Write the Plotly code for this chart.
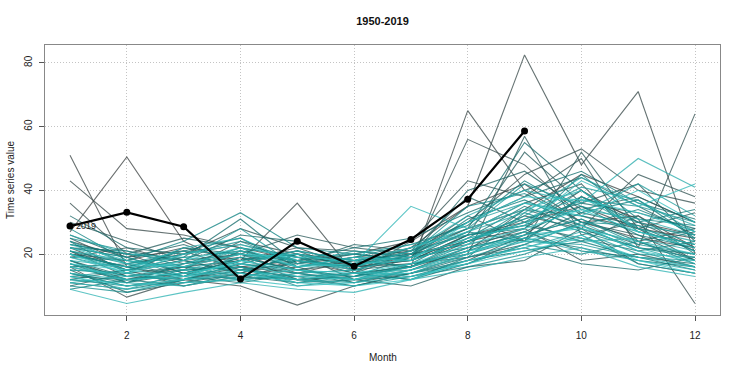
import plotly.graph_objects as go

months = list(range(1, 13))
years = list(range(1950, 2019))

values = [
    [22, 15, 18, 14, 20, 16, 18, 26, 30, 35, 28, 25],
    [18, 12, 16, 20, 14, 18, 22, 35, 42, 30, 32, 22],
    [27, 50.5, 24, 16, 18, 14, 20, 28, 34, 45, 38, 30],
    [51, 16, 12, 14, 18, 15, 20, 24, 28, 40, 30, 26],
    [20, 18, 22, 18, 36, 14, 16, 65, 40, 30, 25, 22],
    [43, 28, 26, 22, 18, 20, 24, 35, 82.5, 48, 71, 20],
    [16, 6.5, 12, 10, 4, 10, 14, 18, 26, 38, 31, 4.5],
    [36, 20, 14, 18, 22, 16, 18, 56, 48, 32, 28, 18],
    [24, 19, 21, 15, 17, 19, 21, 30, 45, 53, 40, 36],
    [19, 22, 17, 19, 12, 14, 24, 43, 38, 50, 22, 64],
    [21, 13, 15, 24, 20, 18, 16, 24, 32, 28, 45, 38],
    [14, 10, 12, 16, 14, 12, 15, 22, 28, 18, 20, 16],
    [25, 17, 20, 28, 22, 21, 19, 27, 36, 42, 24, 28],
    [12, 15, 10, 13, 16, 11, 14, 20, 57, 26, 30, 22],
    [30, 24, 18, 20, 26, 22, 20, 32, 24, 52, 28, 33],
    [17, 11, 14, 12, 18, 16, 17, 19, 23, 30, 26, 18],
    [23, 20, 25, 22, 15, 17, 18, 26, 52, 36, 42, 24],
    [10, 14, 16, 18, 20, 12, 10, 16, 18, 28, 17, 14],
    [20, 16, 13, 21, 17, 23, 21, 38, 30, 24, 32, 20],
    [15, 8, 11, 14, 12, 13, 16, 21, 34, 29, 23, 27],
    [26, 19, 23, 17, 21, 15, 19, 40, 46, 34, 38, 30],
    [13, 12, 14, 19, 15, 18, 20, 23, 27, 21, 19, 17],
    [22, 21, 18, 26, 24, 16, 22, 30, 38, 44, 35, 26],
    [18, 13, 16, 13, 11, 14, 12, 17, 25, 33, 29, 21],
    [32, 22, 20, 23, 19, 17, 21, 28, 55, 40, 27, 23],
    [11, 9, 12, 15, 13, 10, 14, 19, 22, 17, 15, 19],
    [21, 15, 19, 31, 17, 20, 18, 24, 31, 36, 33, 28],
    [16, 17, 13, 11, 14, 15, 17, 26, 29, 25, 21, 24],
    [24, 14, 22, 20, 18, 22, 25, 33, 40, 46, 36, 31],
    [19, 18, 15, 16, 12, 13, 19, 22, 26, 31, 24, 18],
    [14, 11, 17, 22, 19, 14, 16, 25, 35, 28, 22, 20],
    [22, 19, 14, 18, 21, 18, 20, 27, 24, 38, 30, 34],
    [9, 12, 10, 14, 11, 12, 13, 18, 21, 24, 19, 15],
    [20, 16, 21, 25, 16, 19, 23, 29, 43, 33, 37, 25],
    [17, 13, 12, 17, 14, 11, 15, 21, 27, 35, 26, 22],
    [23, 20, 18, 14, 20, 17, 19, 31, 37, 29, 34, 27],
    [12, 10, 13, 19, 15, 13, 17, 20, 25, 22, 18, 16],
    [28, 18, 24, 33, 22, 20, 18, 24, 30, 40, 28, 21],
    [15, 14, 11, 12, 13, 14, 12, 19, 33, 27, 22, 19],
    [21, 17, 19, 21, 18, 16, 21, 26, 28, 45, 31, 29],
    [18, 11, 15, 16, 10, 12, 14, 17, 23, 20, 24, 17],
    [13, 15, 17, 20, 16, 18, 16, 23, 34, 32, 27, 23],
    [25, 21, 16, 15, 19, 15, 20, 35, 39, 30, 29, 26],
    [10, 8, 12, 13, 12, 10, 13, 16, 20, 26, 17, 14],
    [20, 16, 20, 24, 17, 21, 19, 25, 29, 37, 35, 30],
    [16, 12, 14, 17, 15, 13, 16, 22, 26, 31, 23, 20],
    [22, 19, 13, 18, 20, 17, 22, 28, 42, 35, 30, 25],
    [14, 10, 11, 15, 13, 14, 15, 19, 24, 23, 19, 18],
    [19, 15, 18, 28, 16, 19, 18, 24, 32, 41, 37, 27],
    [11, 13, 15, 12, 14, 12, 17, 21, 25, 29, 21, 16],
    [24, 17, 21, 20, 18, 16, 20, 30, 36, 33, 42, 32],
    [17, 12, 13, 16, 11, 13, 14, 18, 22, 27, 20, 19],
    [21, 18, 16, 22, 19, 20, 23, 26, 31, 38, 28, 24],
    [13, 9, 14, 14, 12, 11, 15, 20, 27, 24, 25, 21],
    [26, 20, 19, 17, 21, 18, 19, 27, 33, 44, 36, 29],
    [15, 14, 12, 18, 14, 15, 13, 17, 23, 30, 22, 17],
    [20, 15, 22, 25, 17, 16, 21, 32, 40, 36, 50, 41],
    [12, 11, 10, 13, 15, 12, 16, 22, 25, 21, 18, 15],
    [18, 16, 17, 21, 16, 19, 18, 24, 30, 34, 31, 26],
    [9, 4.5, 8, 11, 9, 8, 12, 15, 19, 22, 16, 13],
    [23, 18, 15, 19, 20, 17, 35, 28, 34, 40, 27, 23],
    [14, 12, 13, 15, 12, 14, 14, 20, 26, 28, 24, 20],
    [19, 14, 20, 23, 18, 15, 19, 25, 29, 43, 35, 42],
    [11, 9, 11, 12, 10, 11, 13, 17, 21, 25, 19, 16],
    [22, 17, 16, 20, 19, 18, 22, 27, 36, 32, 40, 30],
    [16, 13, 14, 17, 13, 12, 15, 21, 24, 29, 21, 18],
    [20, 14, 18, 22, 16, 17, 18, 30, 38, 37, 33, 27],
    [13, 10, 12, 14, 11, 10, 12, 18, 22, 26, 18, 14],
    [17, 15, 13, 18, 15, 14, 17, 23, 28, 34, 27, 22],
]

months_2019 = list(range(1, 10))
values_2019 = [28.8, 33.1, 28.6, 12.2, 24.0, 16.2, 24.6, 37.2, 58.6]

x_ticks = [2, 4, 6, 8, 10, 12]
y_ticks = [20, 40, 60, 80]

color_stops = [(68, 68, 68), (10, 122, 122), (60, 200, 200)]


def ramp(t):
    if t <= 0.5:
        a, b, u = color_stops[0], color_stops[1], t / 0.5
    else:
        a, b, u = color_stops[1], color_stops[2], (t - 0.5) / 0.5
    return tuple(round(a[k] + (b[k] - a[k]) * u) for k in range(3))


fig = go.Figure()
n = len(years)
for i, (yr, vals) in enumerate(zip(years, values)):
    r, g, b = ramp(i / (n - 1))
    fig.add_trace(go.Scatter(
        x=months, y=vals, mode="lines", name=str(yr),
        line=dict(color=f"rgba({r},{g},{b},0.78)", width=1.1),
        hoverinfo="skip", showlegend=False,
    ))

fig.add_trace(go.Scatter(
    x=months_2019, y=values_2019, mode="lines+markers", name="2019",
    line=dict(color="black", width=2.2),
    marker=dict(color="black", size=7),
    showlegend=False,
))

FONT = "Liberation Sans, Arial, sans-serif"

fig.add_annotation(x=months_2019[0], y=values_2019[0], text="2019",
                   xanchor="left", yanchor="middle", xshift=4, showarrow=False,
                   font=dict(family=FONT, size=9, color="#222"))

fig.add_annotation(x=0.5, y=-0.159, xref="paper", yref="paper", text="Month",
                   showarrow=False, xanchor="center", yanchor="middle",
                   font=dict(family=FONT, size=10, color="#222"))
fig.add_annotation(x=-0.052, y=0.5, xref="paper", yref="paper", text="Time series value",
                   showarrow=False, textangle=-90, xanchor="center", yanchor="middle",
                   font=dict(family=FONT, size=10, color="#222"))

axis_common = dict(
    showgrid=True, gridcolor="#c4c4c4", griddash="1px,2px", gridwidth=1,
    ticks="outside", ticklen=5, tickcolor="#555", tickwidth=1,
    showline=True, mirror=True, linecolor="#888", linewidth=1,
    zeroline=False, automargin=False,
    tickfont=dict(family=FONT, size=10, color="#222"),
)

fig.update_xaxes(range=[0.56, 12.44], tickvals=x_ticks, ticklabelstandoff=6, **axis_common)
fig.update_yaxes(range=[0.9, 85.6], tickvals=y_ticks, tickangle=-90, ticklabelstandoff=3, **axis_common)

fig.update_layout(
    width=744, height=372,
    margin=dict(l=45, r=24, t=45, b=57),
    paper_bgcolor="white", plot_bgcolor="white",
    title=dict(text="<b>1950-2019</b>", x=0.5, xref="paper", y=1 - 21 / 372,
               yref="container", xanchor="center", yanchor="middle",
               font=dict(family=FONT, size=11, color="#111")),
)

fig.write_html("out.html", config={"displayModeBar": False},
               post_script="document.body.style.margin='0px';")
